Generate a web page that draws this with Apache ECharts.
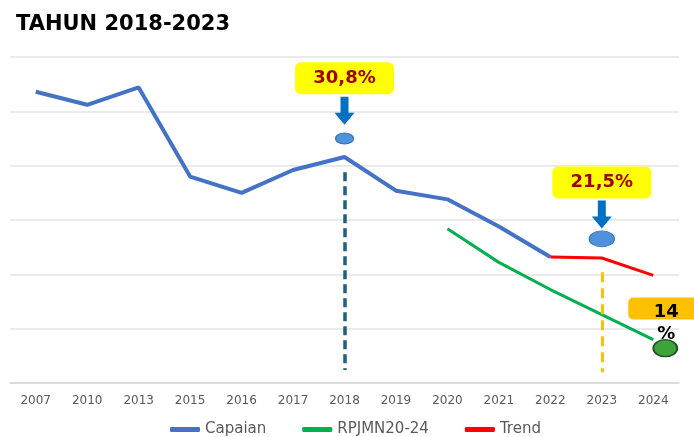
<!DOCTYPE html>
<html>
<head>
<meta charset="utf-8">
<script src="https://cdn.jsdelivr.net/npm/echarts@6/dist/echarts.min.js"></script>
<style>
  html, body { margin: 0; padding: 0; background: #fff; }
  #chart { width: 694px; height: 437px; }
</style>
</head>
<body>
<div id="chart"></div>
<script>
// data
var years = ['2007', '2010', '2013', '2015', '2016', '2017', '2018', '2019', '2020', '2021', '2022', '2023', '2024'];
var capaian = [36.8, 35.6, 37.2, 29.0, 27.5, 29.6, 30.8, 27.7, 26.9, 24.4, 21.6, null, null];
var rpjmn = [null, null, null, null, null, null, null, null, 24.2, 21.1, 18.6, 16.3, 14.0];
var trend = [null, null, null, null, null, null, null, null, null, null, 21.6, 21.5, 19.9];
var calloutText = ['30,8%', '21,5%', '14\n%'];

var font = 'DejaVu Sans';
var arrowPath = 'path://M6,0L14,0L14,16L20,16L10,28L0,16L6,16Z';
var ellipsePath = 'path://M0,5A10,5 0 1,0 20,5A10,5 0 1,0 0,5Z';
// rounded boxes with small corners (drawn in their own pixel size)
var boxPath = 'path://M6,0H93A6,6 0 0 1 99,6V26A6,6 0 0 1 93,32H6A6,6 0 0 1 0,26V6A6,6 0 0 1 6,0Z';
var smallBoxPath = 'path://M5,0H65A5,5 0 0 1 70,5V17A5,5 0 0 1 65,22H5A5,5 0 0 1 0,17V5A5,5 0 0 1 5,0Z';

function box(year, y, text) {
    return {
        coord: [year, y], symbol: boxPath, symbolSize: [99, 32],
        itemStyle: { color: '#ffff00' },
        label: { show: true, position: 'inside', formatter: text, color: '#9c0000',
                 fontFamily: font, fontWeight: 'bold', fontSize: 18 }
    };
}
function arrow(year, y) {
    return { coord: [year, y], symbol: arrowPath, symbolSize: [20, 28],
             itemStyle: { color: '#0070c0' }, label: { show: false } };
}
function dot(year, y, size) {
    return { coord: [year, y], symbol: ellipsePath, symbolSize: size,
             itemStyle: { color: '#4f92db', borderColor: '#2e75b6', borderWidth: 1 }, label: { show: false } };
}

var chart = echarts.init(document.getElementById('chart'));
var option = {
    animation: false,
    title: {
        text: 'TAHUN 2018-2023',
        left: 11, top: 9,
        textStyle: { fontFamily: font, fontWeight: 'bold', fontSize: 21, color: '#000' }
    },
    legend: {
        data: ['Capaian', 'RPJMN20-24', 'Trend'],
        left: 165, top: 417,
        icon: 'roundRect', itemWidth: 30, itemHeight: 5, itemGap: 36,
        textStyle: { fontFamily: font, fontSize: 15, color: '#595959' }
    },
    grid: { left: 10, right: 15, top: 57, bottom: 54 },
    xAxis: {
        type: 'category',
        data: years,
        axisLine: { lineStyle: { color: '#d9d9d9', width: 1.5 } },
        axisTick: { show: false },
        axisLabel: { fontFamily: font, fontSize: 12, color: '#595959', margin: 12 }
    },
    yAxis: {
        type: 'value', min: 10, max: 40, interval: 5,
        axisLabel: { show: false },
        axisLine: { show: false },
        axisTick: { show: false },
        splitLine: { lineStyle: { color: '#e3e3e3', width: 1.5 } }
    },
    series: [
        {
            name: 'Capaian', type: 'line', data: capaian, showSymbol: false,
            color: '#4472c4', lineStyle: { width: 4, color: '#4472c4' },
            markLine: {
                silent: true, symbol: 'none', label: { show: false },
                lineStyle: { color: '#1f5f7f', width: 3.5, type: [9, 5] },
                data: [[{ coord: ['2018', 29.4] }, { coord: ['2018', 11.2] }]]
            },
            markPoint: {
                silent: true,
                data: [box('2018', 38.05, calloutText[0]), arrow('2018', 35.05), dot('2018', 32.5, [18, 11])]
            }
        },
        {
            name: 'RPJMN20-24', type: 'line', data: rpjmn, showSymbol: false,
            color: '#00b050', lineStyle: { width: 3, color: '#00b050' },
            markPoint: {
                silent: true,
                data: [
                    {
                        coord: ['2024', 16.85], symbol: smallBoxPath, symbolSize: [70, 22], symbolOffset: [10, 0],
                        itemStyle: { color: '#ffc000' },
                        label: { show: true, position: 'inside', formatter: calloutText[2], color: '#000',
                                 fontFamily: font, fontWeight: 'bold', fontSize: 18, lineHeight: 22, offset: [3, 15] }
                    },
                    {
                        coord: ['2024', 13.2], symbol: 'circle', symbolSize: [24, 17], symbolOffset: [12, 0],
                        itemStyle: { color: '#3da33a', borderColor: '#1d4d1d', borderWidth: 1.5 },
                        label: { show: false }
                    }
                ]
            }
        },
        {
            name: 'Trend', type: 'line', data: trend, showSymbol: false,
            color: '#ff0000', lineStyle: { width: 3, color: '#ff0000' },
            markLine: {
                silent: true, symbol: 'none', label: { show: false },
                lineStyle: { color: '#ffc000', width: 3, type: [10, 6] },
                data: [[{ coord: ['2023', 20.2] }, { coord: ['2023', 11.0] }]]
            },
            markPoint: {
                silent: true,
                data: [box('2023', 28.45, calloutText[1]), arrow('2023', 25.5), dot('2023', 23.26, [25, 16])]
            }
        }
    ]
};
chart.setOption(option);
</script>
</body>
</html>
